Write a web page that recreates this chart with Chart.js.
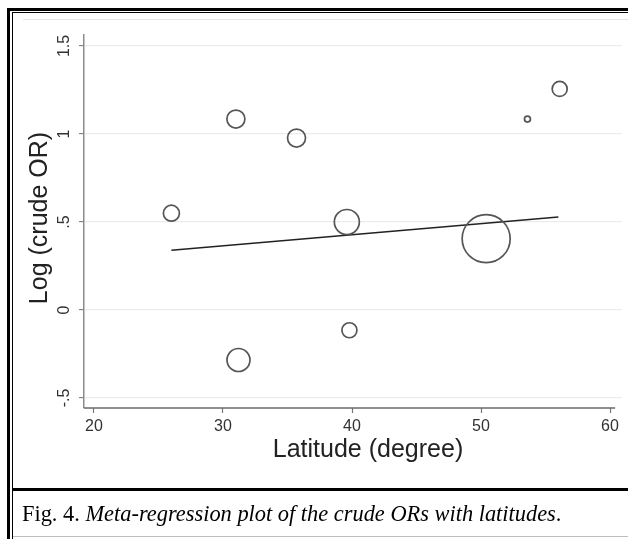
<!DOCTYPE html>
<html>
<head>
<meta charset="utf-8">
<script src="https://cdn.jsdelivr.net/npm/chart.js@4.4.0/dist/chart.umd.min.js"></script>
<style>
  html, body { margin: 0; padding: 0; background: #fff; }
  #wrap { position: relative; width: 628px; height: 539px; overflow: hidden; background: #fff; }
  #c { position: absolute; left: 0; top: 0; }
  .ln { position: absolute; }
  #caption { position: absolute; left: 22px; top: 503px; line-height: 22px; font-family: "Liberation Serif", "Times New Roman", serif; font-size: 22.4px; color: #000; white-space: nowrap; }
  #caption i { font-style: italic; }
</style>
</head>
<body>
<div id="wrap">
  <canvas id="c" width="628" height="539"></canvas>
  <div class="ln" style="left:7px;top:8px;width:3px;height:531px;background:#000"></div>
  <div class="ln" style="left:7px;top:8px;width:621px;height:3px;background:#000"></div>
  <div class="ln" style="left:12px;top:12px;width:1px;height:527px;background:#000"></div>
  <div class="ln" style="left:12px;top:12px;width:616px;height:1px;background:#000"></div>
  <div class="ln" style="left:23px;top:19px;width:605px;height:1px;background:#e6e6e6"></div>
  <div class="ln" style="left:13px;top:488px;width:615px;height:3px;background:#000"></div>
  <div class="ln" style="left:13px;top:536px;width:615px;height:1px;background:#bdbdbd"></div>
  <div id="caption">Fig. 4. <i>Meta-regression plot of the crude ORs with latitudes</i>.</div>
</div>
<script>
// ---- data ----
const latitude   = [26.0, 31.0, 35.7, 39.6, 39.8, 31.2, 50.4, 53.6, 56.1];
const logCrudeOR = [0.55, 1.085, 0.977, 0.50, -0.115, -0.284, 0.405, 1.085, 1.256];
const studyWeight = [8, 9, 9, 12.5, 7.5, 11.5, 24, 3, 7.5];   // bubble radius (study weight)
const fitLatitude = [26, 56];
const fitLogOR    = [0.34, 0.528];
const xTickValues = [20, 30, 40, 50, 60];
const yTickValues = [-0.5, 0, 0.5, 1, 1.5];
const yTickLabels = ["-.5", "0", ".5", "1", "1.5"];
const xTitle = "Latitude (degree)";
const yTitle = "Log (crude OR)";

const bubbles = latitude.map((x, i) => ({ x: x, y: logCrudeOR[i], r: studyWeight[i] }));
const fitLine = fitLatitude.map((x, i) => ({ x: x, y: fitLogOR[i] }));

const textPlugin = {
  id: 'textPlugin',
  afterDraw(chart) {
    const ctx = chart.ctx;
    const xs = chart.scales.x, ys = chart.scales.y;
    ctx.save();
    // x axis line
    ctx.strokeStyle = '#6a6a6a';
    ctx.lineWidth = 1.5;
    ctx.beginPath();
    ctx.moveTo(chart.chartArea.left, chart.chartArea.bottom);
    ctx.lineTo(xs.getPixelForValue(60.4), chart.chartArea.bottom);
    ctx.stroke();
    // y tick labels, rotated
    ctx.fillStyle = '#333';
    ctx.font = '16px "Liberation Sans", Arial, sans-serif';
    ctx.textAlign = 'center';
    ctx.textBaseline = 'middle';
    yTickValues.forEach((v, i) => {
      const py = ys.getPixelForValue(v);
      ctx.save();
      ctx.translate(65, py);
      ctx.rotate(-Math.PI / 2);
      ctx.fillText(yTickLabels[i], 0, 0);
      ctx.restore();
    });
    // titles
    ctx.font = '25px "Liberation Sans", Arial, sans-serif';
    ctx.fillStyle = '#222';
    ctx.fillText(xTitle, 368, 450);
    ctx.save();
    ctx.translate(40, 218);
    ctx.rotate(-Math.PI / 2);
    ctx.fillText(yTitle, 0, 0);
    ctx.restore();
    ctx.restore();
  }
};

new Chart(document.getElementById('c'), {
  type: 'bubble',
  data: {
    datasets: [
      {
        type: 'bubble',
        data: bubbles,
        backgroundColor: 'rgba(255,255,255,0)',
        borderColor: '#555',
        borderWidth: 1.7,
        hoverRadius: 0,
        clip: false
      },
      {
        type: 'line',
        data: fitLine,
        borderColor: '#222',
        borderWidth: 1.5,
        pointRadius: 0,
        fill: false
      }
    ]
  },
  options: {
    responsive: false,
    animation: false,
    events: [],
    layout: { autoPadding: false, padding: { left: 0, top: 35, right: 6, bottom: 91 } },
    plugins: { legend: { display: false }, tooltip: { enabled: false } },
    scales: {
      x: {
        type: 'linear',
        min: 19.225,
        max: 60.93,
        afterFit(s) { s.height = 40; s.paddingLeft = 0; s.paddingRight = 0; },
        afterBuildTicks(s) { s.ticks = xTickValues.map(v => ({ value: v })); },
        grid: { drawOnChartArea: false, drawTicks: true, tickLength: 5, tickColor: '#777', tickWidth: 1.2 },
        border: { display: false },
        ticks: { color: '#333', font: { family: '"Liberation Sans", Arial, sans-serif', size: 16 }, padding: 4, maxRotation: 0, callback: v => String(v) }
      },
      y: {
        type: 'linear',
        min: -0.5568,
        max: 1.5625,
        afterFit(s) { s.width = 84; s.paddingTop = 0; s.paddingBottom = 0; },
        afterBuildTicks(s) { s.ticks = yTickValues.map(v => ({ value: v })); },
        grid: { drawOnChartArea: true, color: '#ececec', lineWidth: 1.2, drawTicks: true, tickLength: 5, tickColor: '#888', tickWidth: 1.2 },
        border: { display: true, color: '#8c8c8c', width: 1.5 },
        ticks: { display: false }
      }
    }
  },
  plugins: [textPlugin]
});
</script>
</body>
</html>
